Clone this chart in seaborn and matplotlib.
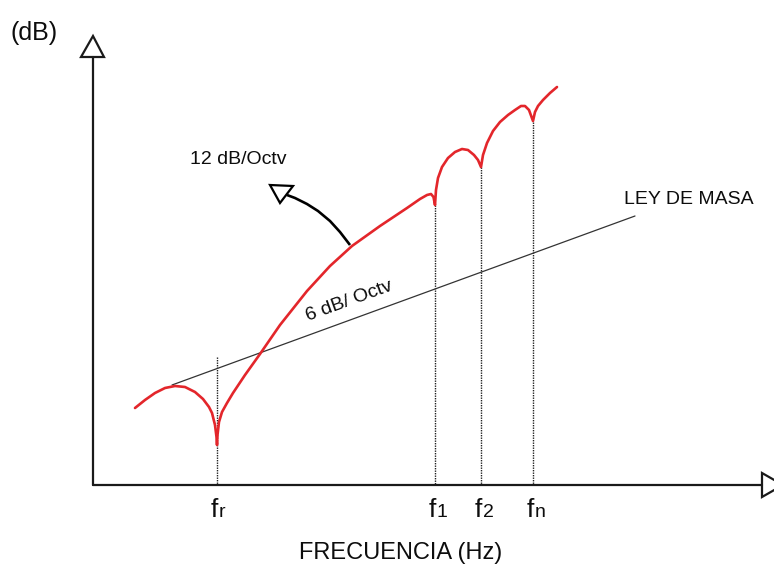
import matplotlib
matplotlib.use("Agg")
import matplotlib.pyplot as plt
import seaborn as sns
import pandas as pd

# -----------------------------
# Data (drawing units = pixels of the sketch, y grows downwards)
# -----------------------------
# red transmission loss curve
curve_x = [135, 145, 155, 165, 175, 185, 195, 203, 209, 212, 215, 216.5, 217,
           217.5, 219, 222, 227, 233, 245, 260, 280, 307, 330, 352, 380, 407,
           420, 427, 431, 433.5, 435,
           436, 438, 442, 448, 455, 462, 468, 474, 478, 481,
           483, 487, 493, 500, 508, 515, 521, 525, 529, 533,
           535, 538, 543, 550, 557]
curve_y = [408, 400, 393, 388, 386, 387, 392, 399, 407, 413, 425, 437, 445,
           435, 422, 412, 403, 393, 375, 354, 325, 291, 266, 246, 226, 208,
           199, 195, 194, 197, 205,
           190, 178, 167, 158, 152, 149, 150, 155, 160, 167,
           155, 143, 131, 122, 115, 110, 106, 106, 110, 121,
           112, 106, 100, 93, 87]

# mass law line (6 dB/octave)
mass_x = [172, 635]
mass_y = [385, 216]

# characteristic frequencies
freq_labels = ["r", "1", "2", "n"]
freq_x = [217, 435, 481, 533]
freq_top = [357, 205, 167, 122]

# curved arrow for 12 dB/Octv
arrow_x = [350, 340, 330, 318, 307, 295, 287]
arrow_y = [245, 232, 221, 211, 204, 198, 195]
head_x = [270, 293, 280, 270]
head_y = [185, 186, 203, 185]

# axes with open triangular heads
yaxis_x, yaxis_y = [93, 93], [485, 57]
xaxis_x, xaxis_y = [93, 762], [485, 485]
yhead_x, yhead_y = [81, 104, 93, 81], [57, 57, 36, 57]
xhead_x, xhead_y = [762, 762, 783, 762], [473, 497, 485, 473]

curve = pd.DataFrame({"x": curve_x, "y": curve_y})
mass = pd.DataFrame({"x": mass_x, "y": mass_y})

# -----------------------------
# Plot
# -----------------------------
sns.set_theme(style="white")
plt.rcParams["font.family"] = ["Liberation Sans", "DejaVu Sans"]

fig = plt.figure(figsize=(7.74, 5.66), dpi=100)
ax = fig.add_axes([0, 0, 1, 1])
ax.set_xlim(0, 774)
ax.set_ylim(566, 0)
ax.axis("off")

# frequency markers
for xv, top in zip(freq_x, freq_top):
    ax.plot([xv, xv], [top, 485], color="#222222", lw=1.0, ls=(0, (1, 0.8)))

# mass law
sns.lineplot(data=mass, x="x", y="y", color="#333333", lw=0.9, ax=ax)

# red curve
sns.lineplot(data=curve, x="x", y="y", sort=False, estimator=None,
             color="#e3262b", lw=1.9, solid_joinstyle="round",
             solid_capstyle="round", ax=ax)

# axes
ax.plot(yaxis_x, yaxis_y, color="#1a1a1a", lw=1.6)
ax.plot(xaxis_x, xaxis_y, color="#1a1a1a", lw=1.6)
ax.fill(yhead_x, yhead_y, facecolor="white", edgecolor="#1a1a1a", lw=1.6)
ax.fill(xhead_x, xhead_y, facecolor="white", edgecolor="#1a1a1a", lw=1.6)

# 12 dB/Octv arrow
ax.plot(arrow_x, arrow_y, color="black", lw=1.9, solid_capstyle="butt",
        solid_joinstyle="round")
ax.fill(head_x, head_y, facecolor="white", edgecolor="black", lw=1.6)

# texts
ink = "#0d0d0d"
ax.text(10, 33, "(dB)", fontsize=18, ha="left", va="center", color=ink)
ax.text(401, 553, "FRECUENCIA (Hz)", fontsize=17, ha="center", va="center",
        color=ink)
ax.text(190, 159, "12 dB/Octv", fontsize=14, ha="left", va="center", color=ink)
ax.text(624, 200, "LEY DE MASA", fontsize=14, ha="left", va="center", color=ink)
ax.text(349, 301, "6 dB/ Octv", fontsize=14, ha="center", va="center",
        rotation=20, rotation_mode="anchor", color=ink)

for lab, xv in zip(freq_labels, freq_x):
    ax.text(xv + 1, 517, "f", fontsize=19, ha="right", va="baseline", color=ink)
    ax.text(xv + 2, 517, lab, fontsize=14, ha="left", va="baseline", color=ink)

fig.savefig("out.png", dpi=100)
